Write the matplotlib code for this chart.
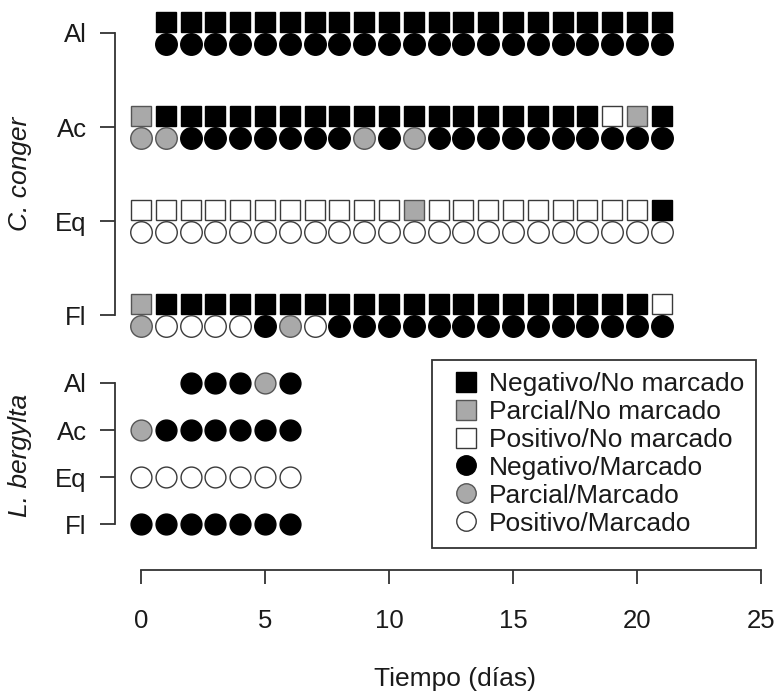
import matplotlib.pyplot as plt
from matplotlib.lines import Line2D

plt.rcParams['font.family'] = ['Liberation Sans', 'DejaVu Sans']

# filas del eje y (de abajo arriba)
rows = ['Fl', 'Eq', 'Ac', 'Al']

# estado por día: N = negativo, P = parcial, O = positivo
# C. conger, primer día de cada fila
cc_start_al = 1
cc_start_ac = 0
cc_start_eq = 0
cc_start_fl = 0
# cuadrados (no marcado)
cc_nm_al = 'NNNNNNNNNNNNNNNNNNNNN'
cc_nm_ac = 'PNNNNNNNNNNNNNNNNNNOPN'
cc_nm_eq = 'OOOOOOOOOOOPOOOOOOOOON'
cc_nm_fl = 'PNNNNNNNNNNNNNNNNNNNNO'
# círculos (marcado)
cc_m_al = 'NNNNNNNNNNNNNNNNNNNNN'
cc_m_ac = 'PPNNNNNNNPNPNNNNNNNNNN'
cc_m_eq = 'OOOOOOOOOOOOOOOOOOOOOO'
cc_m_fl = 'POOOONPONNNNNNNNNNNNNN'

# L. bergylta (sólo marcado)
lb_start_al = 2
lb_start_ac = 0
lb_start_eq = 0
lb_start_fl = 0
lb_m_al = 'NNNPN'
lb_m_ac = 'PNNNNNN'
lb_m_eq = 'OOOOOOO'
lb_m_fl = 'NNNNNNN'

x_ticks = [0, 5, 10, 15, 20, 25]

colores = {'N': 'black', 'P': '#a9a9a9', 'O': 'white'}
bordes = {'N': 'black', 'P': '#555555', 'O': '#3a3a3a'}
eje = '#333333'
texto = '#1a1a1a'
fs = 18.5


def dibujar_fila(ax, start, codes, y, marker, ms):
    for code, color in colores.items():
        xs = [start + i for i, c in enumerate(codes) if c == code]
        if xs:
            ax.plot(xs, [y] * len(xs), marker, ls='none', ms=ms,
                    mfc=color, mec=bordes[code], mew=1.0, clip_on=False)


def estilo_eje_y(ax):
    ax.set_yticks(range(len(rows)))
    ax.set_yticklabels(rows)
    ax.spines['left'].set_bounds(0, 3)
    for s in ['top', 'right', 'bottom']:
        ax.spines[s].set_visible(False)
    ax.spines['left'].set_color(eje)
    ax.spines['left'].set_linewidth(1.3)
    ax.tick_params(axis='y', length=10.5, width=1.3, color=eje, pad=10,
                   labelsize=fs, labelcolor=texto)


fig = plt.figure(figsize=(7.78, 6.92), dpi=100)

# panel superior: C. conger
ax1 = fig.add_axes([0.1478, 0.497, 0.8368, 0.503])
ax1.set_xlim(-1.05, 25.2)
ax1.set_ylim(-0.35, 3.35)
off = 0.12
cc_nm = [cc_nm_fl, cc_nm_eq, cc_nm_ac, cc_nm_al]
cc_m = [cc_m_fl, cc_m_eq, cc_m_ac, cc_m_al]
cc_start = [cc_start_fl, cc_start_eq, cc_start_ac, cc_start_al]
for y in range(len(rows)):
    dibujar_fila(ax1, cc_start[y], cc_nm[y], y + off, 's', 14.5)
    dibujar_fila(ax1, cc_start[y], cc_m[y], y - off, 'o', 15.5)
estilo_eje_y(ax1)
ax1.set_xticks([])

# panel inferior: L. bergylta
ax2 = fig.add_axes([0.1478, 0.2088, 0.8368, 0.2717])
ax2.set_xlim(-1.05, 25.2)
ax2.set_ylim(-0.5, 3.5)
lb_m = [lb_m_fl, lb_m_eq, lb_m_ac, lb_m_al]
lb_start = [lb_start_fl, lb_start_eq, lb_start_ac, lb_start_al]
for y in range(len(rows)):
    dibujar_fila(ax2, lb_start[y], lb_m[y], y, 'o', 15)
estilo_eje_y(ax2)
ax2.spines['bottom'].set_visible(True)
ax2.spines['bottom'].set_position(('outward', 16))
ax2.spines['bottom'].set_bounds(0, 25)
ax2.spines['bottom'].set_color(eje)
ax2.spines['bottom'].set_linewidth(1.3)
ax2.set_xticks(x_ticks)
ax2.tick_params(axis='x', length=10, width=1.3, color=eje, pad=18,
                labelsize=fs, labelcolor=texto)
ax2.set_xlabel('Tiempo (días)', fontsize=fs + 0.5, color=texto, labelpad=25)
ax2.xaxis.label.set_x(0.522)

fig.text(0.026, 0.749, 'C. conger', rotation=90, style='italic',
         fontsize=fs + 0.5, color=texto, ha='center', va='center')
fig.text(0.026, 0.342, 'L. bergylta', rotation=90, style='italic',
         fontsize=fs + 0.5, color=texto, ha='center', va='center')

# leyenda
etiquetas = ['Negativo/No marcado', 'Parcial/No marcado', 'Positivo/No marcado',
             'Negativo/Marcado', 'Parcial/Marcado', 'Positivo/Marcado']
formas = ['s', 's', 's', 'o', 'o', 'o']
rellenos = ['N', 'P', 'O', 'N', 'P', 'O']
handles = [Line2D([], [], ls='none', marker=m, ms=14, mfc=colores[c], mec=bordes[c], mew=1.0)
           for m, c in zip(formas, rellenos)]
leg = fig.legend(handles, etiquetas, loc='upper left', bbox_to_anchor=(0.5553, 0.4798),
                 bbox_transform=fig.transFigure, fontsize=19, frameon=True,
                 fancybox=False, edgecolor=eje, framealpha=1, borderaxespad=0,
                 labelspacing=0.15, handlelength=1.65, handletextpad=0.05,
                 borderpad=0.45)
leg.get_frame().set_linewidth(1.3)
for t in leg.get_texts():
    t.set_color(texto)

fig.savefig('out.png', dpi=100)
